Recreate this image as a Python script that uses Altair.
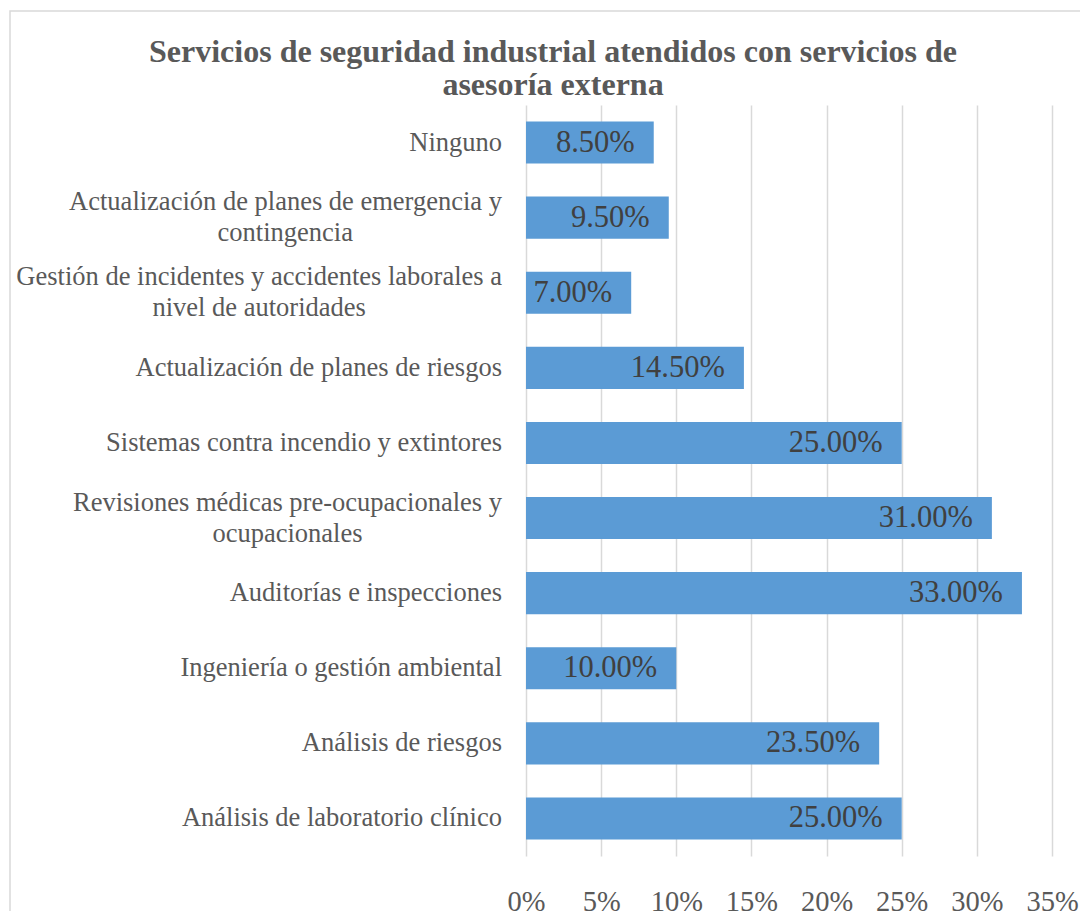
import unicodedata
import altair as alt
import pandas as pd

# ---------------- data ----------------
categories = [
    "Ninguno",
    "Actualización de planes de emergencia y\ncontingencia",
    "Gestión de incidentes y accidentes laborales a\nnivel de autoridades",
    "Actualización de planes de riesgos",
    "Sistemas contra incendio y extintores",
    "Revisiones médicas pre-ocupacionales y\nocupacionales",
    "Auditorías e inspecciones",
    "Ingeniería o gestión ambiental",
    "Análisis de riesgos",
    "Análisis de laboratorio clínico",
]
values = [8.5, 9.5, 7.0, 14.5, 25.0, 31.0, 33.0, 10.0, 23.5, 25.0]
x_ticks = [0, 5, 10, 15, 20, 25, 30, 35]
title_lines = [
    "Servicios de seguridad industrial atendidos con servicios de",
    "asesoría externa",
]

# ---------------- styling ----------------
FONT = "Liberation Serif"
CAT_FS = 26.5
VAL_FS = 30.5
TICK_FS = 28.5
TEXT_GREY = "#595959"
GRID = "#d9d9d9"
BAR = "#5b9bd5"
LABEL_PAD = 24
LINE_H = 31

# approximate Times widths (1/1000 em) for centring the second line of labels
_W = dict(a=444, b=500, c=444, d=500, e=444, f=333, g=500, h=500, i=278, j=278,
          k=500, l=278, m=778, n=500, o=500, p=500, q=500, r=333, s=389, t=278,
          u=500, v=500, w=722, x=500, y=500, z=444)
_W.update({" ": 250, "-": 333, "A": 722, "G": 722, "R": 667, "N": 722, "S": 556})


def text_width(s, fs):
    tot = 0
    for ch in s:
        base = unicodedata.normalize("NFD", ch)[0]
        tot += _W.get(base, 667 if base.isupper() else 500)
    return tot * fs / 1000.0


keys = [c.replace("\n", " ") for c in categories]

bars_df = pd.DataFrame({
    "cat": keys,
    "value": values,
    "lbl": [f"{v:.2f}%" for v in values],
})

rows = []
for c, k in zip(categories, keys):
    parts = c.split("\n")
    if len(parts) == 1:
        rows.append({"cat": k, "text": parts[0], "kind": "single", "cx": 0.0})
    else:
        w1 = text_width(parts[0], CAT_FS)
        rows.append({"cat": k, "text": parts[0], "kind": "first", "cx": 0.0})
        rows.append({"cat": k, "text": parts[1], "kind": "second",
                     "cx": -LABEL_PAD - w1 / 2.0})
labels_df = pd.DataFrame(rows)

yscale = alt.Scale(paddingInner=0.44, paddingOuter=0.22)
yenc = alt.Y("cat:N", sort=keys, axis=None, scale=yscale)

base = alt.Chart(bars_df)

bars = base.mark_bar(color=BAR).encode(
    x=alt.X(
        "value:Q",
        scale=alt.Scale(domain=[0, 35], nice=False),
        axis=alt.Axis(
            values=x_ticks,
            labelExpr="datum.value + '%'",
            title=None,
            grid=True,
            gridColor=GRID,
            gridWidth=1.5,
            domain=False,
            ticks=False,
            tickSize=0,
            labelFont=FONT,
            labelFontSize=TICK_FS,
            labelColor=TEXT_GREY,
            labelPadding=31,
            labelOverlap=False,
            labelFlush=False,
            labelBound=False,
        ),
    ),
    y=yenc,
)

val_text = base.mark_text(
    align="right", baseline="middle", dx=-19, font=FONT,
    fontSize=VAL_FS, color="#404040",
).encode(x="value:Q", y=yenc, text="lbl:N")

lab = alt.Chart(labels_df)
lab_single = lab.transform_filter("datum.kind == 'single'").mark_text(
    align="right", baseline="middle", font=FONT, fontSize=CAT_FS, color=TEXT_GREY,
).encode(x=alt.value(-LABEL_PAD), y=yenc, text="text:N")
lab_first = lab.transform_filter("datum.kind == 'first'").mark_text(
    align="right", baseline="middle", dy=-LINE_H / 2, font=FONT,
    fontSize=CAT_FS, color=TEXT_GREY,
).encode(x=alt.value(-LABEL_PAD), y=yenc, text="text:N")
lab_second = lab.transform_filter("datum.kind == 'second'").mark_text(
    align="center", baseline="middle", dy=LINE_H / 2, font=FONT,
    fontSize=CAT_FS, color=TEXT_GREY,
).encode(x=alt.X("cx:Q", scale=None, axis=None), y=yenc, text="text:N")

one = alt.Data(values=[{}])
border = alt.Chart(one).mark_rect(fill=None, stroke=GRID, strokeWidth=1.5).encode(
    x=alt.value(-516), x2=alt.value(700), y=alt.value(-94), y2=alt.value(900)
)
title = alt.Chart(one).mark_text(
    text=title_lines, align="center", baseline="alphabetic", lineHeight=33,
    font=FONT, fontSize=32, fontWeight="bold", color=TEXT_GREY,
).encode(x=alt.value(27), y=alt.value(-43))

chart = alt.layer(
    border, bars, val_text, lab_single, lab_first, lab_second, title
).properties(
    width=526,
    height=751,
    padding={"left": 518, "top": 97, "right": 28, "bottom": 55},
    autosize=alt.AutoSizeParams(type="none"),
    background="white",
).configure_view(stroke=None)

chart.save("out.html", embed_options={"renderer": "svg", "actions": False})
